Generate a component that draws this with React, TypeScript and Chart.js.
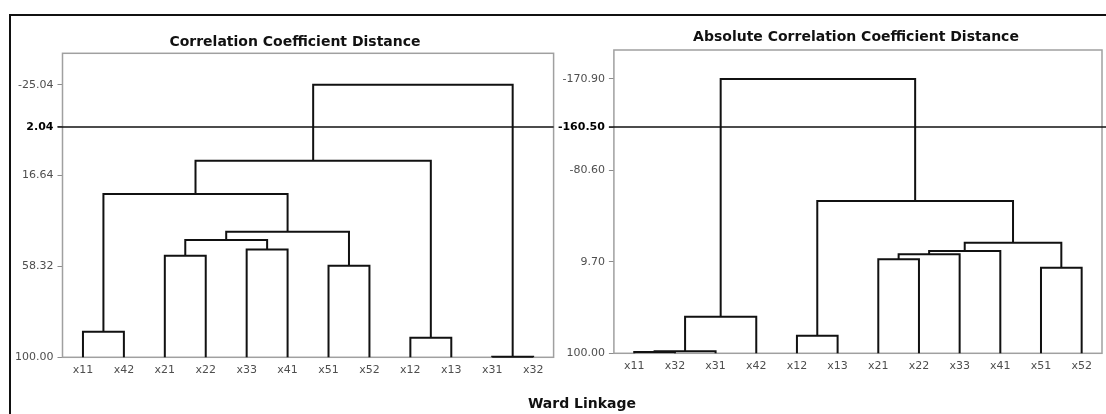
import React, { useEffect, useRef } from 'react';
import { Chart, LinearScale, registerables } from 'chart.js';

Chart.register(...registerables);

// ---- data -----------------------------------------------------------------
const LEFT_TITLE = 'Correlation Coefficient Distance';
const RIGHT_TITLE = 'Absolute Correlation Coefficient Distance';
const LINKAGE_LABEL = 'Ward Linkage';

// similarity level of a single observation
const LEAF_LEVEL = 100;

// left dendrogram: leaf order, joins (leaf name or "#k" = k-th join) and join levels
const LEFT_LEAVES = ['x11', 'x42', 'x21', 'x22', 'x33', 'x41', 'x51', 'x52', 'x12', 'x13', 'x31', 'x32'];
const LEFT_JOIN_A = ['x31', 'x12', 'x11', 'x51', 'x21', 'x33', '#4', '#6', '#2', '#8', '#9'];
const LEFT_JOIN_B = ['x32', 'x13', 'x42', 'x52', 'x22', 'x41', '#5', '#3', '#7', '#1', '#0'];
const LEFT_LEVELS = [99.7, 91.0, 88.3, 58.0, 53.4, 50.5, 46.2, 42.4, 25.1, 12.2, -25.04];
const LEFT_TICKS = [-25.04, 16.64, 58.32, 100.0];
const LEFT_CUT = 2.04;

// right dendrogram
const RIGHT_LEAVES = ['x11', 'x32', 'x31', 'x42', 'x12', 'x13', 'x21', 'x22', 'x33', 'x41', 'x51', 'x52'];
const RIGHT_JOIN_A = ['x11', '#0', 'x12', '#1', 'x51', 'x21', '#5', '#6', '#7', '#2', '#3'];
const RIGHT_JOIN_B = ['x32', 'x31', 'x13', 'x42', 'x52', 'x22', 'x33', 'x41', '#4', '#8', '#9'];
const RIGHT_LEVELS = [98.8, 98.0, 82.6, 63.9, 15.5, 7.2, 2.2, -1.0, -9.2, -50.4, -170.9];
const RIGHT_TICKS = [-170.9, -80.6, 9.7, 100.0];
const RIGHT_CUT = -160.5;

// ---- styling --------------------------------------------------------------
const FONT = "'DejaVu Sans', Verdana, sans-serif";
const INK = '#111111';
const TICK_GREY = '#4e4e4e';
const FRAME_GREY = '#a0a0a0';

// Linear axis whose value-to-pixel mapping is piecewise linear: the regular
// ticks keep even spacing while each pinned value sits at a fixed fraction.
class PinnedLinearScale extends LinearScale {
  static id = 'pinnedLinear';

  knots(): [number, number][] {
    const o: any = this.options;
    const lo = this.min;
    const hi = this.max;
    const span = hi - lo || 1;
    const pts: [number, number][] = [[lo, 0], [hi, 1]];
    (o.anchors || []).forEach((v: number) => {
      if (v > lo && v < hi) pts.push([v, (v - lo) / span]);
    });
    (o.pinValues || []).forEach((v: number, i: number) => pts.push([v, o.pinAt[i]]));
    return pts.sort((a, b) => a[0] - b[0]);
  }

  getPixelForValue(value: number) {
    if (value === null || value === undefined || Number.isNaN(value)) return NaN;
    const k = this.knots();
    let i = 1;
    while (i < k.length - 1 && value > k[i][0]) i++;
    const [v0, d0] = k[i - 1];
    const [v1, d1] = k[i];
    const t = v1 === v0 ? 0 : (value - v0) / (v1 - v0);
    return this.getPixelForDecimal(d0 + t * (d1 - d0));
  }

  getValueForPixel(pixel: number) {
    const d = this.getDecimalForPixel(pixel);
    const k = this.knots();
    let i = 1;
    while (i < k.length - 1 && d > k[i][1]) i++;
    const [v0, d0] = k[i - 1];
    const [v1, d1] = k[i];
    const t = d1 === d0 ? 0 : (d - d0) / (d1 - d0);
    return v0 + t * (v1 - v0);
  }
}
Chart.register(PinnedLinearScale);

// Each join becomes one bracket: down to child A, across, down to child B.
function joinBrackets(leaves: string[], joinA: string[], joinB: string[], levels: number[]) {
  const nodes = new Map<string, { x: number; y: number }>();
  leaves.forEach((name, i) => nodes.set(name, { x: i, y: LEAF_LEVEL }));
  return levels.map((h, k) => {
    const a = nodes.get(joinA[k])!;
    const b = nodes.get(joinB[k])!;
    nodes.set('#' + k, { x: (a.x + b.x) / 2, y: h });
    return [
      { x: a.x, y: a.y },
      { x: a.x, y: h },
      { x: b.x, y: h },
      { x: b.x, y: b.y },
    ];
  });
}

const plotFrame = {
  id: 'plotFrame',
  beforeDatasetsDraw(chart: any) {
    const { ctx, chartArea: a } = chart;
    ctx.save();
    ctx.strokeStyle = FRAME_GREY;
    ctx.lineWidth = 1.5;
    ctx.strokeRect(a.left, a.top, a.right - a.left, a.bottom - a.top);
    ctx.restore();
  },
};

const cutLine = {
  id: 'cutLine',
  afterDatasetsDraw(chart: any, _args: any, opts: any) {
    const { ctx, chartArea: a } = chart;
    const y = chart.scales.y.getPixelForValue(opts.value);
    const x1 = opts.toEdge ? chart.width : a.right;
    ctx.save();
    ctx.strokeStyle = INK;
    ctx.lineWidth = 1.5;
    ctx.beginPath();
    ctx.moveTo(a.left - 5, y);
    ctx.lineTo(x1, y);
    ctx.stroke();
    ctx.restore();
  },
};

type PanelSpec = {
  left: number;
  top: number;
  w: number;
  h: number;
  axisWidth: number;
  padRight: number;
  padTop: number;
  xAxisHeight: number;
  xPad: number;
  yMin: number;
  pinAt: number;
  toEdge: boolean;
  leaves: string[];
  joinA: string[];
  joinB: string[];
  levels: number[];
  ticks: number[];
  cut: number;
};

function buildConfig(p: PanelSpec): any {
  const brackets = joinBrackets(p.leaves, p.joinA, p.joinB, p.levels);
  const yTicks = [...p.ticks, p.cut].sort((a, b) => a - b);
  const isCut = (ctx: any) => ctx.tick && Math.abs(ctx.tick.value - p.cut) < 1e-9;
  return {
    type: 'line',
    data: {
      datasets: brackets.map((pts) => ({
        data: pts,
        borderColor: INK,
        borderWidth: 2,
        borderJoinStyle: 'miter',
        pointRadius: 0,
        tension: 0,
        fill: false,
        clip: false,
      })),
    },
    options: {
      animation: false,
      responsive: false,
      events: [],
      layout: { padding: { left: 0, right: p.padRight, top: p.padTop, bottom: 0 } },
      plugins: {
        legend: { display: false },
        tooltip: { enabled: false },
        title: { display: false },
        cutLine: { value: p.cut, toEdge: p.toEdge },
      },
      scales: {
        x: {
          type: 'linear',
          min: -0.5,
          max: p.leaves.length - 0.5,
          grid: { display: false, drawTicks: false },
          border: { display: false },
          afterBuildTicks: (s: any) => {
            s.ticks = p.leaves.map((_, i) => ({ value: i }));
          },
          afterFit: (s: any) => {
            s.height = p.xAxisHeight;
          },
          ticks: {
            autoSkip: false,
            maxRotation: 0,
            padding: p.xPad,
            color: TICK_GREY,
            font: { family: FONT, size: 11 },
            callback: (_v: any, i: number) => p.leaves[i],
          },
        },
        y: {
          type: 'pinnedLinear',
          reverse: true,
          bounds: 'data',
          min: p.yMin,
          max: LEAF_LEVEL,
          anchors: p.ticks,
          pinValues: [p.cut],
          pinAt: [p.pinAt],
          afterBuildTicks: (s: any) => {
            s.ticks = yTicks.map((v) => ({ value: v }));
          },
          afterFit: (s: any) => {
            s.width = p.axisWidth;
          },
          grid: {
            display: true,
            drawOnChartArea: false,
            drawTicks: true,
            tickLength: 5,
            color: '#8c8c8c',
          },
          border: { display: false },
          ticks: {
            autoSkip: false,
            padding: 4,
            callback: (v: any) => Number(v).toFixed(2),
            color: (ctx: any) => (isCut(ctx) ? '#000000' : TICK_GREY),
            font: (ctx: any) =>
              isCut(ctx)
                ? { family: FONT, size: 11, weight: 'bold' }
                : { family: FONT, size: 11 },
          },
        },
      },
    },
    plugins: [plotFrame, cutLine],
  };
}

const LEFT_PANEL: PanelSpec = {
  left: 11,
  top: 16,
  w: 547,
  h: 380,
  axisWidth: 51.5,
  padRight: 4.4,
  padTop: 37.3,
  xAxisHeight: 38.7,
  xPad: 6,
  yMin: -39.44,
  pinAt: 0.2424,
  toEdge: false,
  leaves: LEFT_LEAVES,
  joinA: LEFT_JOIN_A,
  joinB: LEFT_JOIN_B,
  levels: LEFT_LEVELS,
  ticks: LEFT_TICKS,
  cut: LEFT_CUT,
};

const RIGHT_PANEL: PanelSpec = {
  left: 558,
  top: 16,
  w: 548,
  h: 380,
  axisWidth: 55.9,
  padRight: 4,
  padTop: 34,
  xAxisHeight: 42.7,
  xPad: 6.5,
  yMin: -199.5,
  pinAt: 0.2539,
  toEdge: true,
  leaves: RIGHT_LEAVES,
  joinA: RIGHT_JOIN_A,
  joinB: RIGHT_JOIN_B,
  levels: RIGHT_LEVELS,
  ticks: RIGHT_TICKS,
  cut: RIGHT_CUT,
};

function Dendrogram({ spec }: { spec: PanelSpec }) {
  const ref = useRef<HTMLCanvasElement | null>(null);
  useEffect(() => {
    const chart = new Chart(ref.current as HTMLCanvasElement, buildConfig(spec));
    return () => chart.destroy();
  }, [spec]);
  return (
    <canvas
      ref={ref}
      width={spec.w}
      height={spec.h}
      style={{
        position: 'absolute',
        left: spec.left,
        top: spec.top,
        width: spec.w,
        height: spec.h,
        display: 'block',
      }}
    />
  );
}

const headingStyle: React.CSSProperties = {
  position: 'absolute',
  transform: 'translateX(-50%)',
  whiteSpace: 'nowrap',
  fontFamily: FONT,
  fontWeight: 'bold',
  fontSize: 14,
  lineHeight: '16px',
  color: INK,
};

export default function App() {
  return (
    <div
      style={{
        position: 'fixed',
        left: 0,
        top: 0,
        width: 1106,
        height: 414,
        overflow: 'hidden',
        background: '#ffffff',
      }}
    >
      <div
        style={{
          position: 'absolute',
          left: 9,
          top: 14,
          width: 1200,
          height: 500,
          border: '2px solid #111111',
        }}
      />
      <Dendrogram spec={LEFT_PANEL} />
      <Dendrogram spec={RIGHT_PANEL} />
      <div style={{ ...headingStyle, left: 295, top: 33 }}>{LEFT_TITLE}</div>
      <div style={{ ...headingStyle, left: 856, top: 28 }}>{RIGHT_TITLE}</div>
      <div style={{ ...headingStyle, left: 582, top: 395 }}>{LINKAGE_LABEL}</div>
    </div>
  );
}
